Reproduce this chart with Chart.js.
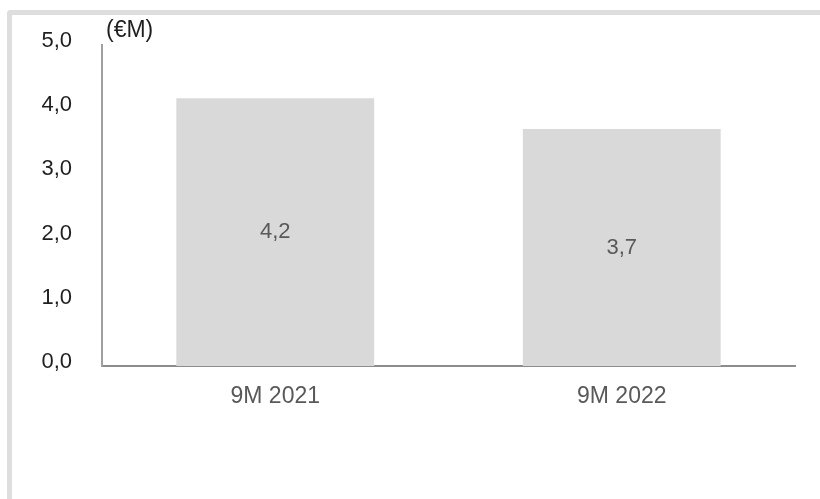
<!DOCTYPE html>
<html>
<head>
<meta charset="utf-8">
<script src="https://cdn.jsdelivr.net/npm/chart.js@4.4.1/dist/chart.umd.min.js"></script>
<style>
  html, body { margin: 0; padding: 0; background: #ffffff; }
  #wrap { position: relative; width: 820px; height: 499px; overflow: hidden; }
  #frame { position: absolute; left: 7px; top: 10px; right: -10px; bottom: -10px;
           border-top: 5px solid #dedede; border-left: 5px solid #dedede; border-top-left-radius: 4px; }
  canvas { position: absolute; left: 0; top: 0; }
</style>
</head>
<body>
<div id="wrap">
  <div id="frame"></div>
  <canvas id="c" width="820" height="499"></canvas>
</div>
<script>
// Data
const categories = ['9M 2021', '9M 2022'];
const values = [4.17, 3.69];
const yTicks = [0, 1, 2, 3, 4, 5];
const unitLabel = '(€M)';

const FONT = "'Liberation Sans', Arial, sans-serif";
const fmt = v => Number(v).toFixed(1).replace('.', ',');

const valueLabelPlugin = {
  id: 'valueLabels',
  afterDatasetsDraw(chart) {
    const ctx = chart.ctx;
    const meta = chart.getDatasetMeta(0);
    ctx.save();
    ctx.font = '22px ' + FONT;
    ctx.fillStyle = '#595959';
    ctx.textAlign = 'center';
    ctx.textBaseline = 'middle';
    meta.data.forEach((bar, i) => {
      const p = bar.getProps(['x', 'y', 'base'], true);
      ctx.fillText(fmt(values[i]), p.x, (p.y + p.base) / 2);
    });
    ctx.restore();
  }
};

const unitPlugin = {
  id: 'unitLabel',
  afterDraw(chart) {
    const ctx = chart.ctx;
    const a = chart.chartArea;
    ctx.save();
    ctx.font = '23px ' + FONT;
    ctx.fillStyle = '#1f1f1f';
    ctx.textAlign = 'left';
    ctx.textBaseline = 'middle';
    ctx.fillText(unitLabel, a.left + 4, a.top - 14);
    ctx.restore();
  }
};

new Chart(document.getElementById('c'), {
  type: 'bar',
  data: {
    labels: categories,
    datasets: [{
      data: values,
      backgroundColor: '#d9d9d9',
      borderWidth: 0,
      barPercentage: 0.571,
      categoryPercentage: 1.0
    }]
  },
  options: {
    responsive: false,
    animation: false,
    devicePixelRatio: 1,
    layout: { padding: { top: 45, right: 25, bottom: 73, left: 0 } },
    plugins: { legend: { display: false }, tooltip: { enabled: false } },
    scales: {
      x: {
        grid: { display: false, drawTicks: false },
        border: { display: true, color: '#8c8c8c', width: 2 },
        ticks: { color: '#595959', font: { family: FONT, size: 23 }, padding: 17 },
        afterFit(scale) { scale.height = 60; }
      },
      y: {
        min: 0, max: 5,
        afterBuildTicks(scale) { scale.ticks = yTicks.map(v => ({ value: v })); },
        grid: { display: false, drawTicks: false },
        border: { display: true, color: '#a0a0a0', width: 2 },
        ticks: { color: '#1f1f1f', font: { family: FONT, size: 22 }, padding: 30, labelOffset: -4,
                 callback: v => fmt(v) },
        afterFit(scale) { scale.width = 102; }
      }
    }
  },
  plugins: [valueLabelPlugin, unitPlugin]
});
</script>
</body>
</html>
